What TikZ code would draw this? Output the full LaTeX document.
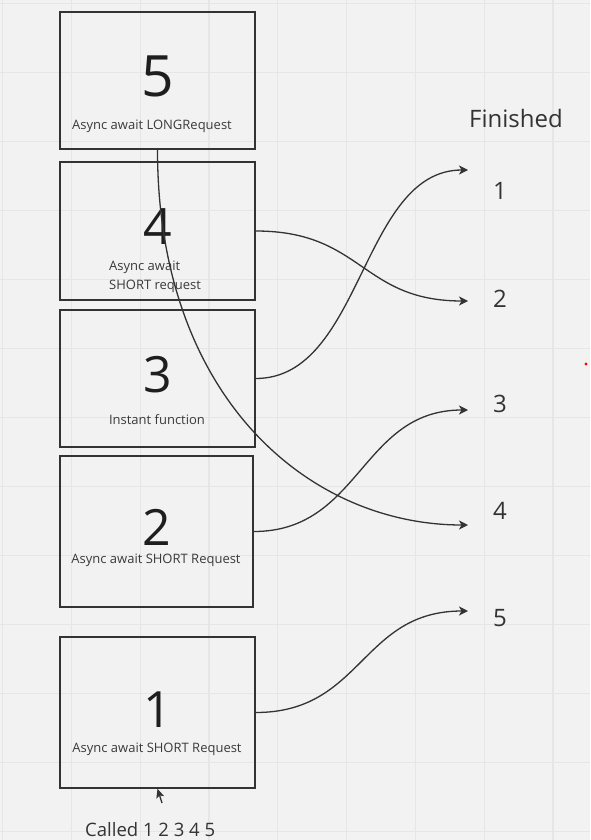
\documentclass[tikz,border=0pt]{standalone}
\usepackage{fontspec}
\setmainfont{Open Sans}
\usetikzlibrary{arrows.meta}
\definecolor{bg}{HTML}{F2F2F2}
\definecolor{gridc}{HTML}{E6E6E6}
\definecolor{ink}{HTML}{333333}
\definecolor{txt}{HTML}{1E1E1E}
\definecolor{labc}{HTML}{3A3A3A}
\tikzset{
  boxst/.style={draw=ink, line width=1.5pt, inner sep=0pt, minimum width=195pt},
  bignum/.style={font=\fontsize{50}{52}\selectfont, text=txt, inner sep=0pt, anchor=base},
  lab/.style={font=\fontsize{13}{16}\selectfont, text=labc, inner sep=0pt},
  finlab/.style={font=\fontsize{24}{28}\selectfont, text=ink, inner sep=0pt},
  conn/.style={draw=ink, line width=1.3pt, -{Stealth[length=9pt,width=9pt,inset=2.5pt]}},
  gridline/.style={draw=gridc, line width=1.2pt}
}
\begin{document}
\begin{tikzpicture}[x=1pt,y=-1pt]
\fill[bg] (0,0) rectangle (590,840);
\useasboundingbox (0,0) rectangle (590,840);
% grid
\foreach \i in {0,...,8} \draw[gridline] ({2.5+68.8*\i},0) -- ({2.5+68.8*\i},840);
\foreach \j in {0,...,12} \draw[gridline] (0,{3.8+69*\j}) -- (590,{3.8+69*\j});
% boxes
\node[boxst, minimum height=137pt] (b5) at (157.5,80.5) {};
\node[boxst, minimum height=138pt] (b4) at (157.5,231) {};
\node[boxst, minimum height=137pt] (b3) at (157.5,378.5) {};
\node[boxst, minimum height=151pt, minimum width=193pt] (b2) at (156.5,531.5) {};
\node[boxst, minimum height=151pt] (b1) at (157.5,712.5) {};
% big numbers
\node[bignum, font=\fontsize{57}{60}\selectfont] (n5) at (157.5,96.5) {5};
\node[bignum] (n4) at (157.5,244) {4};
\node[bignum] (n3) at (157.5,392) {3};
\node[bignum] (n2) at (156.5,545.5) {2};
\node[bignum] (n1) at (157.5,727) {1};
% labels
\node[lab, anchor=base west] (l5) at (72,130) {Async await LONGRequest};
\node[lab, anchor=base west] (l4a) at (109,270) {Async await};
\node[lab, anchor=base west] (l4b) at (109,289) {SHORT request};
\node[lab, anchor=base] (l3) at (157,424) {Instant function};
\node[lab, anchor=base] (l2) at (156,563) {Async await SHORT Request};
\node[lab, anchor=base] (l1) at (157,752) {Async await SHORT Request};
% finished column
\node[finlab, anchor=base west] (fin) at (469,128) {Finished};
\node[finlab, anchor=base] (f1) at (500,199) {1};
\node[finlab, anchor=base] (f2) at (500,307) {2};
\node[finlab, anchor=base] (f3) at (500,412) {3};
\node[finlab, anchor=base] (f4) at (500,519) {4};
\node[finlab, anchor=base] (f5) at (500,626) {5};
% arrow ends
\coordinate (e1) at (468,170);
\coordinate (e2) at (468,301);
\coordinate (e3) at (468,410);
\coordinate (e4) at (468,525);
\coordinate (e5) at (468,611);
% connectors
\draw[conn] (b3.east) .. controls +(107,0) and +(-107,0) .. (e1);
\draw[conn] (b4.east) .. controls +(107,0) and +(-107,0) .. (e2);
\draw[conn] (b2.east) .. controls +(107,0) and +(-107,0) .. (e3);
\draw[conn] (b5.south) .. controls +(0,248) and +(-159,0) .. (e4);
\draw[conn] (b1.east) .. controls +(107,0) and +(-107,0) .. (e5);
% called
\node[font=\fontsize{18.5}{22}\selectfont, text=ink, inner sep=0pt, anchor=base west] (called) at (85,836) {Called 1 2 3 4 5};
\coordinate (cur) at (162,803);
\draw[ink, line width=1.3pt, -{Stealth[length=9pt,width=8pt,inset=2pt]}] (cur) -- (b1.south);
% red dot
\fill[red] (586,364) circle[radius=1.6pt];
\end{tikzpicture}
\end{document}
